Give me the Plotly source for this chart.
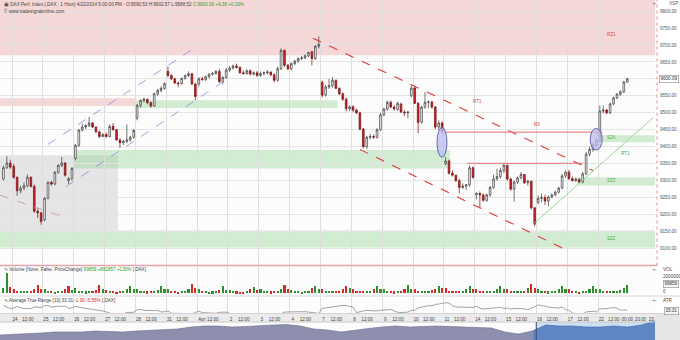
import plotly.graph_objects as go

# ---------------- DATA ----------------
# hourly bars: 3 bars of 21 Mar, then 9 bars per trading day (24 Mar .. 22 Apr 2014)
opens = [
    9305, 9338, 9352,
    9342, 9310, 9270, 9278, 9285, 9310, 9283, 9210, 9205,
    9185, 9248, 9295, 9290, 9325, 9345, 9352, 9300, 9306,
    9366, 9404, 9449, 9458, 9462, 9470, 9458, 9444, 9430,
    9436, 9430, 9460, 9450, 9420, 9412, 9416, 9420, 9428,
    9484, 9522, 9536, 9540, 9530, 9520, 9556, 9566, 9572,
    9622, 9610, 9600, 9588, 9586, 9601, 9610, 9615, 9585,
    9585, 9600, 9598, 9606, 9614, 9616, 9622, 9592, 9604,
    9626, 9632, 9638, 9634, 9618, 9616, 9624, 9614, 9618,
    9610, 9616, 9618, 9620, 9612, 9596, 9630, 9684, 9640,
    9630, 9645, 9652, 9660, 9662, 9668, 9680, 9660, 9696,
    9590, 9552, 9576, 9580, 9596, 9572, 9556, 9540, 9512,
    9518, 9508, 9500, 9452, 9400, 9428, 9430, 9428, 9450,
    9494, 9511, 9531, 9517, 9510, 9526, 9502, 9500, 9550,
    9573, 9528, 9472, 9517, 9531, 9532, 9517, 9458, 9470,
    9350, 9358, 9322, 9316, 9300, 9280, 9284, 9288, 9338,
    9258, 9262, 9258, 9242, 9258, 9280, 9305, 9312, 9330,
    9345, 9305, 9275, 9296, 9308, 9318, 9294, 9298, 9220,
    9236, 9248, 9250, 9240, 9252, 9258, 9266, 9278, 9314,
    9325, 9306, 9300, 9304, 9296, 9320, 9378, 9392, 9405,
    9418, 9505, 9508, 9500, 9526, 9544, 9555, 9562, 9590.53,
]
highs = [
    9345, 9372, 9362,
    9350, 9312, 9285, 9295, 9318, 9312, 9288, 9218, 9208,
    9252, 9298, 9300, 9328, 9348, 9370, 9355, 9310, 9340,
    9408, 9452, 9468, 9466, 9488, 9473, 9460, 9447, 9440,
    9442, 9465, 9470, 9452, 9425, 9420, 9466, 9432, 9452,
    9526, 9540, 9545, 9542, 9533, 9560, 9570, 9578, 9590,
    9636, 9614, 9603, 9592, 9604, 9612, 9622, 9618, 9588,
    9605, 9606, 9610, 9616, 9620, 9626, 9630, 9608, 9632,
    9638, 9642, 9645, 9636, 9625, 9628, 9628, 9622, 9624,
    9622, 9622, 9626, 9622, 9616, 9636, 9690, 9686, 9644,
    9648, 9656, 9662, 9668, 9672, 9680, 9682, 9700, 9725,
    9595, 9582, 9600, 9605, 9598, 9575, 9560, 9545, 9522,
    9522, 9512, 9503, 9455, 9432, 9438, 9436, 9455, 9500,
    9515, 9536, 9536, 9522, 9532, 9530, 9508, 9505, 9582,
    9576, 9532, 9520, 9561, 9536, 9535, 9520, 9478, 9475,
    9370, 9362, 9330, 9318, 9306, 9292, 9290, 9345, 9342,
    9266, 9268, 9262, 9262, 9285, 9318, 9335, 9338, 9352,
    9348, 9308, 9300, 9312, 9325, 9320, 9302, 9300, 9222,
    9256, 9262, 9258, 9256, 9262, 9270, 9282, 9320, 9330,
    9332, 9312, 9310, 9306, 9325, 9385, 9400, 9412, 9425,
    9522, 9522, 9512, 9530, 9548, 9558, 9566, 9594, 9602.57,
]
lows = [
    9300, 9335, 9335,
    9305, 9255, 9262, 9272, 9280, 9280, 9205, 9190, 9170,
    9180, 9245, 9285, 9286, 9320, 9340, 9312, 9290, 9300,
    9360, 9400, 9445, 9452, 9458, 9455, 9440, 9425, 9428,
    9425, 9428, 9448, 9418, 9396, 9405, 9410, 9415, 9424,
    9478, 9515, 9530, 9525, 9515, 9518, 9550, 9560, 9568,
    9605, 9597, 9585, 9575, 9583, 9598, 9605, 9582, 9537,
    9578, 9594, 9594, 9602, 9610, 9612, 9588, 9584, 9600,
    9620, 9628, 9630, 9615, 9612, 9612, 9610, 9610, 9606,
    9606, 9610, 9612, 9608, 9590, 9592, 9626, 9635, 9625,
    9625, 9640, 9648, 9655, 9658, 9664, 9640, 9656, 9690,
    9545, 9548, 9570, 9575, 9570, 9552, 9535, 9505, 9505,
    9502, 9496, 9448, 9395, 9394, 9422, 9424, 9424, 9446,
    9490, 9506, 9514, 9506, 9506, 9500, 9490, 9484, 9546,
    9526, 9440, 9468, 9512, 9514, 9512, 9452, 9450, 9440,
    9346, 9318, 9312, 9296, 9262, 9275, 9272, 9282, 9305,
    9245, 9220, 9238, 9238, 9252, 9276, 9300, 9306, 9322,
    9300, 9270, 9238, 9290, 9304, 9290, 9285, 9215, 9165,
    9230, 9236, 9228, 9225, 9248, 9254, 9262, 9275, 9308,
    9302, 9298, 9296, 9292, 9292, 9316, 9372, 9385, 9398,
    9415, 9498, 9496, 9496, 9522, 9540, 9550, 9558, 9588.52,
]
closes = [
    9338, 9352, 9340,
    9310, 9270, 9278, 9285, 9310, 9283, 9210, 9205, 9180,
    9248, 9295, 9290, 9325, 9345, 9352, 9316, 9306, 9336,
    9404, 9449, 9458, 9462, 9470, 9458, 9444, 9430, 9436,
    9430, 9460, 9450, 9420, 9412, 9416, 9420, 9428, 9448,
    9522, 9536, 9540, 9530, 9520, 9556, 9566, 9572, 9586,
    9610, 9600, 9588, 9586, 9601, 9610, 9615, 9585, 9548,
    9600, 9598, 9606, 9614, 9616, 9622, 9592, 9604, 9626,
    9632, 9638, 9634, 9618, 9616, 9624, 9614, 9618, 9610,
    9616, 9618, 9620, 9612, 9596, 9630, 9684, 9640, 9630,
    9645, 9652, 9660, 9662, 9668, 9678, 9660, 9696, 9702,
    9552, 9576, 9580, 9596, 9572, 9556, 9540, 9512, 9518,
    9508, 9500, 9452, 9400, 9428, 9430, 9428, 9450, 9494,
    9511, 9531, 9517, 9512, 9528, 9502, 9500, 9502, 9573,
    9528, 9472, 9517, 9531, 9532, 9517, 9458, 9470, 9445,
    9358, 9322, 9316, 9300, 9280, 9284, 9288, 9338, 9310,
    9262, 9258, 9242, 9258, 9280, 9305, 9312, 9330, 9345,
    9305, 9275, 9296, 9308, 9318, 9294, 9298, 9220, 9172,
    9248, 9250, 9240, 9252, 9258, 9266, 9278, 9314, 9325,
    9306, 9300, 9304, 9296, 9320, 9378, 9392, 9405, 9418,
    9505, 9508, 9500, 9526, 9544, 9555, 9562, 9590.71, 9600.09,
]
volumes = [  # thousands of contracts
    600, 2400, 700,
    520, 310, 260, 240, 270, 330, 480, 980, 560,
    470, 300, 240, 220, 250, 310, 520, 880, 430,
    610, 340, 280, 230, 260, 290, 450, 940, 500,
    430, 280, 260, 210, 240, 300, 470, 860, 520,
    500, 320, 250, 230, 260, 280, 420, 900, 480,
    540, 300, 270, 220, 260, 340, 560, 1150, 620,
    480, 290, 250, 210, 230, 270, 430, 820, 450,
    420, 260, 230, 200, 220, 260, 500, 780, 410,
    460, 300, 240, 230, 250, 330, 540, 1000, 520,
    440, 280, 250, 210, 240, 300, 620, 920, 560,
    560, 330, 280, 250, 270, 340, 510, 880, 600,
    520, 310, 290, 250, 260, 320, 480, 900, 500,
    470, 290, 260, 230, 250, 300, 520, 960, 470,
    500, 330, 280, 240, 270, 350, 560, 880, 590,
    580, 340, 290, 260, 280, 330, 520, 850, 540,
    520, 310, 270, 240, 260, 320, 500, 880, 460,
    540, 330, 280, 250, 270, 340, 600, 1150, 640,
    500, 300, 260, 230, 250, 310, 520, 860, 480,
    480, 290, 250, 220, 240, 300, 540, 900, 500,
    560, 320, 270, 240, 250, 300, 450, 620, 1000,
]
day_labels = ["24", "25", "26", "27", "28", "31", "Apr", "2", "3", "4",
              "7", "8", "9", "10", "11", "14", "15", "16", "17", "22"]
extra_labels = ["00:00", "20:00", "23"]
price_levels = [9100, 9150, 9200, 9250, 9300, 9350, 9400, 9450, 9500,
                9550, 9600, 9650, 9700, 9750, 9800]
last_price = 9600.09
navigator = [8780, 8810, 8840, 8900, 8960, 8960, 8960, 9020, 8990, 8960,
             9020, 9050, 9080, 9140, 9260, 9320, 9320, 9260, 9290, 9350,
             9380, 9410, 9320, 9140, 9080, 8960, 9080, 9170, 9260, 9320,
             9260, 9290, 9320, 9290, 9260, 9260, 9200, 8960, 8840, 9020,
             9380, 9320, 9320, 9260, 9260, 9320, 9260, 9380, 9620]
NAV_SPLIT = 39

BARS_PER_DAY = 9
FIRST = -3
FONT = "Liberation Sans, Arial, sans-serif"
FS = 4.6

xs = list(range(FIRST, FIRST + len(closes)))

# ---------------- helpers ----------------
def py(px):
    return 1 - px / 340.0

XR = [-4.0, 187.1]
XD = [0, 655 / 680]

# ATR(10) from the price arrays
tr = []
for k in range(len(closes)):
    if k == 0:
        tr.append(highs[k] - lows[k])
    else:
        pc = closes[k - 1]
        tr.append(max(highs[k] - lows[k], abs(highs[k] - pc), abs(lows[k] - pc)))
atr = []
for k in range(len(tr)):
    w = tr[max(0, k - 9):k + 1]
    atr.append(sum(w) / len(w))

vol_colors = []
for k in range(len(closes)):
    prev = opens[k] if k == 0 else closes[k - 1]
    vol_colors.append("#2f8f2f" if closes[k] >= prev else "#d42a2a")

fig = go.Figure()

fig.add_trace(go.Candlestick(
    x=xs, open=opens, high=highs, low=lows, close=closes,
    increasing=dict(line=dict(color="#3a3a3a", width=0.7), fillcolor="#ffffff"),
    decreasing=dict(line=dict(color="#7a1010", width=0.7), fillcolor="#cc2229"),
    whiskerwidth=0, xaxis="x", yaxis="y", showlegend=False, hoverinfo="skip"))

fig.add_trace(go.Bar(x=xs, y=[v * 1000 for v in volumes], marker=dict(color=vol_colors, line=dict(width=0)),
                     width=0.62, xaxis="x", yaxis="y2", showlegend=False, hoverinfo="skip"))

fig.add_trace(go.Scatter(x=xs, y=atr, mode="lines", line=dict(color="#8c8c8c", width=0.8),
                         xaxis="x", yaxis="y3", showlegend=False, hoverinfo="skip"))

nav_x = list(range(len(navigator)))
fig.add_trace(go.Scatter(x=nav_x[:NAV_SPLIT + 1], y=navigator[:NAV_SPLIT + 1], mode="lines",
                         fill="tozeroy", fillcolor="#8e8eae", line=dict(color="#6c6c90", width=0.6),
                         xaxis="x4", yaxis="y4", showlegend=False, hoverinfo="skip"))
fig.add_trace(go.Scatter(x=nav_x[NAV_SPLIT:], y=navigator[NAV_SPLIT:], mode="lines",
                         fill="tozeroy", fillcolor="#5f86c4", line=dict(color="#3f66a8", width=0.6),
                         xaxis="x4", yaxis="y4", showlegend=False, hoverinfo="skip"))

# ---------------- tick positions ----------------
boundaries = [BARS_PER_DAY * d - 0.5 for d in range(len(day_labels))]
tickvals, ticktext = [], []
for d, lab in enumerate(day_labels):
    tickvals.append(BARS_PER_DAY * d + (0.4 if lab != "Apr" else 0.9))
    ticktext.append(lab)
    tickvals.append(BARS_PER_DAY * d + 4.1)
    ticktext.append("12:00")
for v, lab in zip([179.0, 182.9, 186.0], extra_labels):
    tickvals.append(v)
    ticktext.append(lab)

# price labels: the level under the last-price box is hidden by the box
label_levels = [p for p in price_levels if abs(p - last_price) > 20]

# ---------------- shapes ----------------
shapes = []
def band(x0, x1, y0, y1, color, layer="below"):
    shapes.append(dict(type="rect", xref="x", yref="y", x0=x0, x1=x1, y0=y0, y1=y1,
                       fillcolor=color, line=dict(width=0), layer=layer))

PINK = "rgba(228,120,120,0.28)"
GREEN = "rgba(140,210,140,0.38)"
band(XR[0], XR[1], 9670, 9850, PINK)                 # RZ1
band(XR[0], 35.7, 9520, 9543, PINK)
band(35.7, 94.5, 9514, 9537, GREEN)
band(XR[0], 30.4, 9153, 9375, "rgba(150,150,150,0.22)")
band(17.3, 127.3, 9336, 9390, GREEN)
band(171.1, XR[1], 9413, 9434, GREEN)                 # SZ4
band(164.4, XR[1], 9286, 9310, GREEN)                 # SZ3
band(XR[0], XR[1], 9103, 9153, GREEN)                 # SZ2

def seg(x0, y0, x1, y1, color, dash="solid", width=1.0):
    shapes.append(dict(type="line", xref="x", yref="y", x0=x0, y0=y0, x1=x1, y1=y1,
                       line=dict(color=color, dash=dash, width=width), layer="above"))

seg(10.0, 9407, 52.3, 9688, "#8a8ad8", "dash", 0.8)
seg(15.3, 9283, 62.2, 9599, "#8a8ad8", "dash", 0.8)
seg(-4.0, 9257, 15.8, 9189, "#c490a4", "dash", 0.8)
seg(87.3, 9720, 169.0, 9330, "#e03a3a", "dash", 1.1)
seg(101.0, 9392, 160.3, 9100, "#e03a3a", "dash", 1.1)
seg(151.5, 9171, 186.6, 9486, "#98d898", "solid", 1.0)
seg(125.9, 9443, 171.7, 9443, "#e47070", "solid", 1.0)
seg(132.3, 9351, 166.1, 9351, "#e47070", "solid", 1.0)

for (x0, x1, y0, y1) in [(123.5, 126.4, 9369, 9457), (168.2, 171.7, 9390, 9454)]:
    shapes.append(dict(type="circle", xref="x", yref="y", x0=x0, x1=x1, y0=y0, y1=y1,
                       fillcolor="rgba(188,188,238,0.75)", line=dict(color="#5a5aa8", width=0.9),
                       layer="above"))

# paper shapes
def prect(x0, x1, y0px, y1px, color, line=None, layer="below"):
    shapes.append(dict(type="rect", xref="paper", yref="paper", x0=x0, x1=x1,
                       y0=py(y1px), y1=py(y0px), fillcolor=color,
                       line=line or dict(width=0), layer=layer))

prect(0, XD[1], 314, 322, "#ebebeb")
prect(XD[1], 1, 314, 340, "#e6e6e6")
shapes.append(dict(type="line", xref="paper", yref="paper", x0=0, x1=657 / 680, y0=py(265.5), y1=py(265.5),
                   line=dict(color="#e9a2aa", width=1.6), layer="above"))
shapes.append(dict(type="line", xref="paper", yref="paper", x0=657 / 680, x1=657 / 680, y0=py(265.5), y1=1,
                   line=dict(color="#e88a94", width=1, dash="dot"), layer="above"))
for ypx in (296, 313.5):
    shapes.append(dict(type="line", xref="paper", yref="paper", x0=0, x1=1, y0=py(ypx), y1=py(ypx),
                       line=dict(color="#d4d4d4", width=1), layer="above"))
shapes.append(dict(type="line", xref="paper", yref="paper", x0=0, x1=XD[1], y0=py(322), y1=py(322),
                   line=dict(color="#c8c8c8", width=1), layer="above"))
# highlighted navigator window
shapes.append(dict(type="rect", xref="x4", yref="paper", x0=NAV_SPLIT + 0.3, x1=len(navigator) - 1,
                   y0=0, y1=py(322), fillcolor="#cddff2", line=dict(width=0), layer="below"))
shapes.append(dict(type="line", xref="x4", yref="paper", x0=NAV_SPLIT + 0.3, x1=NAV_SPLIT + 0.3,
                   y0=0, y1=py(322), line=dict(color="#404868", width=1), layer="above"))

# ---------------- annotations ----------------
ann = []
def txt(x, y, s, color="#444444", xref="paper", yref="paper", xanchor="left", size=FS, **kw):
    ann.append(dict(x=x, y=y, xref=xref, yref=yref, text=s, showarrow=False, xanchor=xanchor,
                    yanchor="middle", font=dict(family=FONT, size=size, color=color), **kw))

txt(2 / 680, py(4.5),
    "▣ DAX Perf. Index [.DAX : 1 Hour] 4/22/2014 5:00:00 PM - O:9590.53 H:9602.57 L:9588.52 "
    "<span style='color:#2ea02e'>C:9600.09 +9.38 +0.10%</span>")
txt(2 / 680, py(11.5), "© www.tradesignalonline.com")
txt(2 / 680, py(269.5),
    "∿ Volume [None, False, PriceChange] <span style='color:#2ea02e'>99859 +882857 +130%</span> [.DAX]")
txt(2 / 680, py(300),
    "∿ Average True Range [10] 33.31 <span style='color:#d42a2a'>-1.90 -5.55%</span> [.DAX]")

txt(174.3, 9732, "RZ1", "#e04848", "x", "y", "center")
txt(174.3, 9428, "SZ4", "#4caf4c", "x", "y", "center")
txt(174.3, 9301, "SZ3", "#4caf4c", "x", "y", "center")
txt(174.3, 9130, "SZ2", "#4caf4c", "x", "y", "center")
txt(135.2, 9532, "RT1", "#e04848", "x", "y", "center")
txt(152.7, 9466, "R3", "#e04848", "x", "y", "center")
txt(178.4, 9381, "RT1", "#4caf4c", "x", "y", "center")

txt(667 / 680, py(4), "XSP", "#555555")
txt(651 / 680, py(4), "▪▫", "#555555")
txt(1 - 1 / 680, last_price, f"{last_price:.2f}", "#333333", "paper", "y", "right",
    bgcolor="#ffffff", bordercolor="#8a8a8a", borderwidth=0.6, borderpad=0.8)
txt(661 / 680, py(269), "VOL", "#444444")
txt(651 / 680, py(269), "▪▫", "#555555")
txt(661 / 680, py(276), "2000000", "#444444")
txt(1 - 1 / 680, py(284), "99859", "#333333", "paper", "paper", "right",
    bgcolor="#f4f4f4", bordercolor="#8a8a8a", borderwidth=0.6, borderpad=0.8)
txt(661 / 680, py(291.5), "0", "#444444")
txt(661 / 680, py(300), "ATR", "#444444")
txt(651 / 680, py(300), "▪▫", "#555555")
txt(1 - 1 / 680, py(311), "33.31", "#333333", "paper", "paper", "right",
    bgcolor="#f4f4f4", bordercolor="#8a8a8a", borderwidth=0.6, borderpad=0.8)

# ---------------- layout ----------------
fig.update_layout(
    width=680, height=340, margin=dict(l=0, r=0, t=0, b=0),
    paper_bgcolor="#ffffff", plot_bgcolor="#fcfcfc",
    font=dict(family=FONT, size=FS, color="#444444"),
    showlegend=False, bargap=0, hovermode=False,
    shapes=shapes, annotations=ann,
    xaxis=dict(domain=XD, range=XR, anchor="free", position=py(315.5),
               tickmode="array", tickvals=tickvals, ticktext=ticktext, tickangle=0,
               tickfont=dict(size=FS, color="#444444"), ticks="", showgrid=False,
               showline=False, zeroline=False, rangeslider=dict(visible=False),
               minor=dict(tickmode="array", tickvals=boundaries, showgrid=True,
                          gridcolor="#dedede", gridwidth=1, ticks="")),
    yaxis=dict(domain=[py(264.5), 1], range=[9052.8, 9832.5], side="right", anchor="x",
               tickmode="array", tickvals=label_levels, tickformat=".2f",
               tickfont=dict(size=FS, color="#555555"), ticks="", showgrid=False,
               zeroline=False, showline=False, ticklabelstandoff=4,
               minor=dict(tickmode="array", tickvals=price_levels, showgrid=True,
                          gridcolor="#e4e4e4", gridwidth=1, ticks="")),
    yaxis2=dict(domain=[py(295), py(266.5)], range=[-235000, 3060000], anchor="x",
                showticklabels=False, showgrid=False, zeroline=False),
    yaxis3=dict(domain=[py(313), py(297)], range=[25, 67], anchor="x",
                showticklabels=False, showgrid=False, zeroline=False),
    xaxis4=dict(domain=XD, range=[0, len(navigator) - 1], anchor="y4", showticklabels=False,
                showgrid=False, zeroline=False, ticks=""),
    yaxis4=dict(domain=[0, py(320)], range=[8480, 9680], anchor="x4", showticklabels=False,
                showgrid=False, zeroline=False, ticks=""),
)

fig.write_html("out.html")
